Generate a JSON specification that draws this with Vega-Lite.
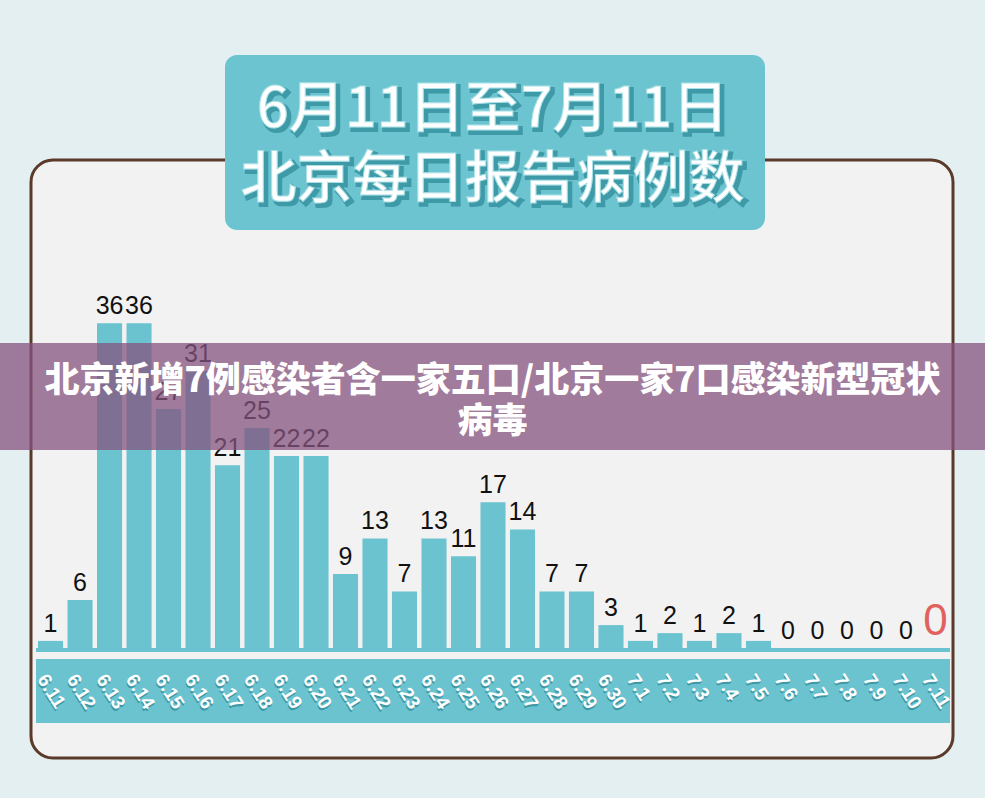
{
  "$schema": "https://vega.github.io/schema/vega-lite/v6.json",
  "width": 985,
  "height": 798,
  "autosize": {"type": "fit", "contains": "padding"},
  "padding": 0,
  "background": "#e3eff1",
  "config": {"view": {"stroke": null}, "axis": {"disable": true}},
  "data": {
    "values": [
      {"date": "6.11", "n": 1}, {"date": "6.12", "n": 6}, {"date": "6.13", "n": 36},
      {"date": "6.14", "n": 36}, {"date": "6.15", "n": 27}, {"date": "6.16", "n": 31},
      {"date": "6.17", "n": 21}, {"date": "6.18", "n": 25}, {"date": "6.19", "n": 22},
      {"date": "6.20", "n": 22}, {"date": "6.21", "n": 9}, {"date": "6.22", "n": 13},
      {"date": "6.23", "n": 7}, {"date": "6.24", "n": 13}, {"date": "6.25", "n": 11},
      {"date": "6.26", "n": 17}, {"date": "6.27", "n": 14}, {"date": "6.28", "n": 7},
      {"date": "6.29", "n": 7}, {"date": "6.30", "n": 3}, {"date": "7.1", "n": 1},
      {"date": "7.2", "n": 2}, {"date": "7.3", "n": 1}, {"date": "7.4", "n": 2},
      {"date": "7.5", "n": 1}, {"date": "7.6", "n": 0}, {"date": "7.7", "n": 0},
      {"date": "7.8", "n": 0}, {"date": "7.9", "n": 0}, {"date": "7.10", "n": 0},
      {"date": "7.11", "n": 0}
    ]
  },
  "layer": [
    {
      "data": {"values": [{}]},
      "layer": [
        {
          "mark": {"type": "rect", "fill": "#f2f2f2", "stroke": "#5b3a29", "strokeWidth": 3, "cornerRadius": 22},
          "encoding": {
            "x": {"datum": 31, "type": "quantitative", "scale": {"domain": [0, 985], "nice": false, "zero": false}, "axis": null},
            "x2": {"datum": 953},
            "y": {"datum": 54.04, "type": "quantitative", "axis": null, "scale": {"domain": [-16.61, 71.76], "nice": false, "zero": false}},
            "y2": {"datum": -12.18}
          }
        },
        {
          "mark": {"type": "rect", "fill": "#6cc4d0", "cornerRadius": 12},
          "encoding": {
            "x": {"datum": 225, "type": "quantitative", "axis": null},
            "x2": {"datum": 765},
            "y": {"datum": 65.67, "type": "quantitative", "axis": null},
            "y2": {"datum": 46.29}
          }
        },
        {
          "mark": {"type": "text", "text": "6月11日至7月11日", "font": "Noto Sans CJK SC", "fontWeight": 500, "fontSize": 56, "fill": "#3f9aa8", "stroke": "#3f9aa8", "strokeWidth": 4, "dx": 3, "dy": 3, "baseline": "middle", "align": "center"},
          "encoding": {"y": {"datum": 59.58, "type": "quantitative", "axis": null}}
        },
        {
          "mark": {"type": "text", "text": "北京每日报告病例数", "font": "Noto Sans CJK SC", "fontWeight": 500, "fontSize": 56, "fill": "#3f9aa8", "stroke": "#3f9aa8", "strokeWidth": 4, "dx": 3, "dy": 3, "baseline": "middle", "align": "center"},
          "encoding": {"y": {"datum": 51.83, "type": "quantitative", "axis": null}}
        },
        {
          "mark": {"type": "text", "text": "6月11日至7月11日", "font": "Noto Sans CJK SC", "fontWeight": 500, "fontSize": 56, "fill": "#ffffff", "stroke": "#a9e0e6", "strokeWidth": 1, "baseline": "middle", "align": "center"},
          "encoding": {"y": {"datum": 59.58, "type": "quantitative", "axis": null}}
        },
        {
          "mark": {"type": "text", "text": "北京每日报告病例数", "font": "Noto Sans CJK SC", "fontWeight": 500, "fontSize": 56, "fill": "#ffffff", "stroke": "#a9e0e6", "strokeWidth": 1, "baseline": "middle", "align": "center"},
          "encoding": {"y": {"datum": 51.83, "type": "quantitative", "axis": null}}
        },
        {
          "mark": {"type": "rect", "fill": "#6bc3cf"},
          "encoding": {
            "x": {"datum": 36, "type": "quantitative", "axis": null},
            "x2": {"datum": 950},
            "y": {"datum": -1.22, "type": "quantitative", "axis": null},
            "y2": {"datum": -8.31}
          }
        },
        {
          "mark": {"type": "rect", "fill": "#6bc3cf"},
          "encoding": {
            "x": {"datum": 36, "type": "quantitative", "axis": null},
            "x2": {"datum": 950},
            "y": {"datum": 0, "type": "quantitative", "axis": null},
            "y2": {"datum": -0.45}
          }
        }
      ]
    },
    {
      "layer": [
        {
          "mark": {"type": "bar", "color": "#6bc3cf"},
          "encoding": {
            "x": {"field": "date", "type": "nominal", "sort": null, "axis": null,
                  "scale": {"type": "band", "range": [38, 948], "paddingInner": 0.15, "paddingOuter": 0}},
            "y": {"field": "n", "type": "quantitative", "axis": null,
                  "scale": {"type": "pow", "exponent": 1.067, "domain": [-17.45, 68.77], "nice": false, "zero": false}}
          }
        },
        {
          "mark": {"type": "text", "font": "Liberation Sans", "baseline": "bottom", "align": "center", "dy": -4},
          "encoding": {
            "x": {"field": "date", "type": "nominal", "sort": null, "axis": null},
            "y": {"field": "n", "type": "quantitative", "axis": null},
            "text": {"field": "n", "type": "quantitative"},
            "color": {"condition": {"test": "datum.date === '7.11'", "value": "#e0625e"}, "value": "#111111"},
            "size": {"condition": {"test": "datum.date === '7.11'", "value": 44}, "value": 25}
          }
        },
        {
          "mark": {"type": "text", "font": "Liberation Sans", "fontWeight": "bold", "fontSize": 19, "angle": 58, "align": "left", "baseline": "middle", "fill": "#3d97a4", "dx": 1.5, "dy": 1.5},
          "encoding": {
            "x": {"field": "date", "type": "nominal", "sort": null, "bandPosition": 0.15, "axis": null},
            "y": {"datum": -3.62, "type": "quantitative", "axis": null},
            "text": {"field": "date", "type": "nominal"}
          }
        },
        {
          "mark": {"type": "text", "font": "Liberation Sans", "fontWeight": "bold", "fontSize": 19, "angle": 58, "align": "left", "baseline": "middle", "fill": "#ffffff"},
          "encoding": {
            "x": {"field": "date", "type": "nominal", "sort": null, "bandPosition": 0.15, "axis": null},
            "y": {"datum": -3.62, "type": "quantitative", "axis": null},
            "text": {"field": "date", "type": "nominal"}
          }
        }
      ]
    },
    {
      "data": {"values": [{}]},
      "layer": [
        {
          "mark": {"type": "rect", "fill": "#85537f", "opacity": 0.75},
          "encoding": {
            "y": {"datum": 33.78, "type": "quantitative", "axis": null, "scale": {"domain": [-16.61, 71.76], "nice": false, "zero": false}},
            "y2": {"datum": 21.93}
          }
        },
        {
          "mark": {"type": "text", "text": "北京新增7例感染者含一家五口/北京一家7口感染新型冠状", "font": "Noto Sans CJK SC", "fontWeight": 900, "fontSize": 35, "fill": "#ffffff", "baseline": "middle", "align": "center"},
          "encoding": {"y": {"datum": 29.57, "type": "quantitative", "axis": null}}
        },
        {
          "mark": {"type": "text", "text": "病毒", "font": "Noto Sans CJK SC", "fontWeight": 900, "fontSize": 35, "fill": "#ffffff", "baseline": "middle", "align": "center"},
          "encoding": {"y": {"datum": 25.03, "type": "quantitative", "axis": null}}
        }
      ]
    }
  ],
  "resolve": {"scale": {"x": "independent", "y": "independent"}}
}
